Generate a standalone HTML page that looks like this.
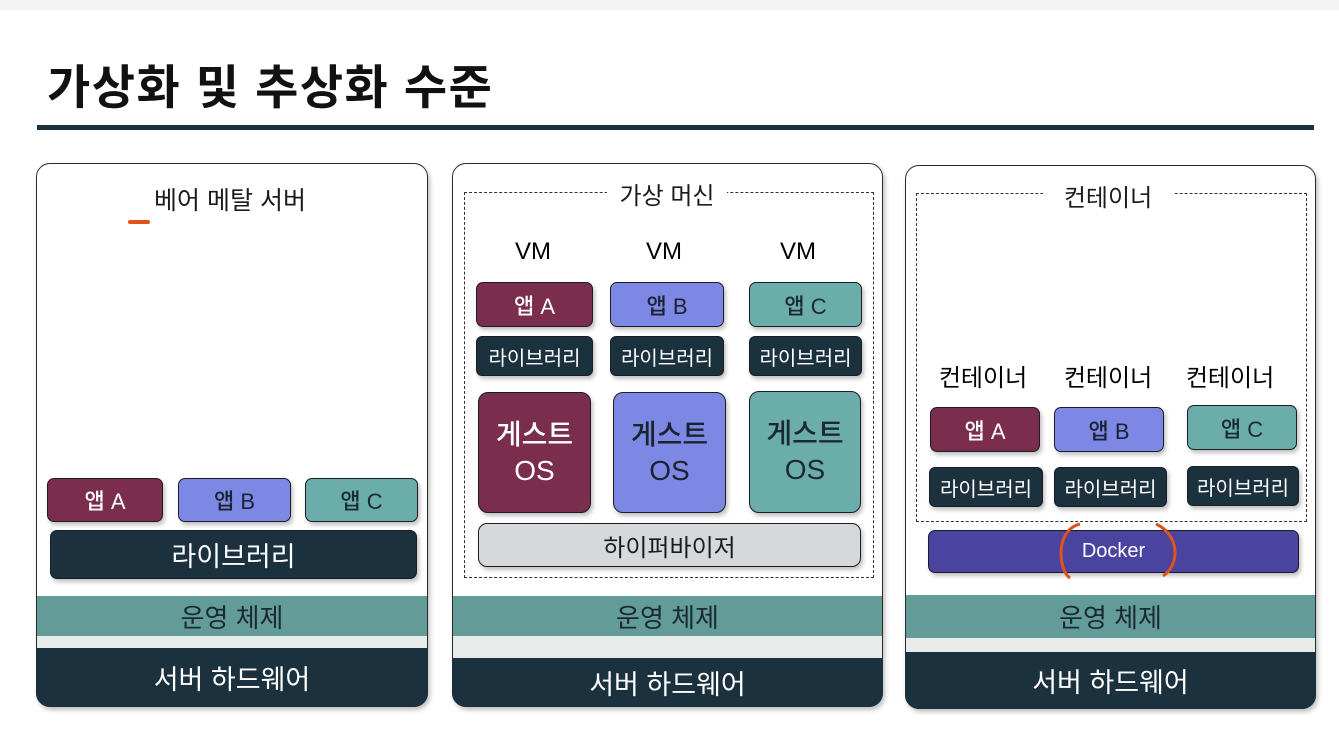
<!DOCTYPE html>
<html><head><meta charset="utf-8"><style>
body{margin:0;width:1339px;height:731px;background:#fff;position:relative;overflow:hidden;font-family:"Liberation Sans","Noto Sans CJK KR",sans-serif;}
.a{position:absolute;box-sizing:border-box;display:flex;align-items:center;justify-content:center;}
.panel{border:1.5px solid #2a2a2a;border-radius:14px;overflow:hidden;background:#fff;box-shadow:2px 3px 5px rgba(0,0,0,.25);}
.box{border:1.5px solid #1c1c24;border-radius:7px;font-size:22px;box-shadow:2px 3px 4px rgba(0,0,0,.25);font-weight:500;}
.ma{background:#7a2d4c;color:#fff;}.bl{background:#7d88e4;color:#1b2230;}.te{background:#6aadaa;color:#1b2a30;}
.dk{background:#1b313d;color:#fff;}
.lib{background:#1b313d;color:#fff;font-size:20px;border-radius:6px;font-weight:normal;}
.os{background:#629b98;color:#1b2a30;font-size:26px;}
.gap{background:#e7eceb;}
.hw{background:#1b313d;color:#fff;font-size:27px;}
.dash{border:1.5px dashed #333;}
.lbl{font-size:24px;color:#1b1b1b;background:#fff;padding:0 10px;}
.g{font-size:28px;line-height:36px;flex-direction:column;}
</style></head><body>
<div class="a" style="left:0;top:0;width:1339px;height:10px;background:#f4f4f4"></div>
<div class="a" style="left:47px;top:53px;height:60px;font-size:47px;letter-spacing:1.5px;font-weight:bold;color:#111;justify-content:flex-start">가상화 및 추상화 수준</div>
<div class="a" style="left:37px;top:125px;width:1277px;height:5px;background:#1b313d"></div>

<div class="a panel" style="left:36px;top:163px;width:392px;height:544px"></div>
<div class="a" style="left:140px;top:183px;width:180px;height:32px;font-size:25px;color:#1b1b1b">베어 메탈 서버</div>
<div class="a" style="left:128px;top:220px;width:22px;height:4px;background:#e0521c;border-radius:2px"></div>
<div class="a box ma" style="left:47px;top:478px;width:116px;height:44px">앱 A</div>
<div class="a box bl" style="left:178px;top:478px;width:113px;height:44px">앱 B</div>
<div class="a box te" style="left:305px;top:478px;width:113px;height:44px">앱 C</div>
<div class="a box dk" style="left:50px;top:530px;width:367px;height:49px;font-size:27px;font-weight:normal">라이브러리</div>
<div class="a os" style="left:37px;top:596px;width:390px;height:40px">운영 체제</div>
<div class="a gap" style="left:37px;top:636px;width:390px;height:12px"></div>
<div class="a hw" style="left:36px;top:648px;width:392px;height:59px;border-radius:0 0 14px 14px">서버 하드웨어</div>

<div class="a panel" style="left:452px;top:163px;width:431px;height:544px"></div>
<div class="a dash" style="left:464px;top:192px;width:410px;height:386px"></div>
<div class="a lbl" style="left:607px;top:178px;width:120px;height:30px">가상 머신</div>
<div class="a" style="left:493px;top:237px;width:80px;height:30px;font-size:24px;font-weight:500">VM</div>
<div class="a" style="left:624px;top:237px;width:80px;height:30px;font-size:24px;font-weight:500">VM</div>
<div class="a" style="left:758px;top:237px;width:80px;height:30px;font-size:24px;font-weight:500">VM</div>
<div class="a box ma" style="left:476px;top:282px;width:117px;height:45px">앱 A</div>
<div class="a box bl" style="left:610px;top:282px;width:114px;height:45px">앱 B</div>
<div class="a box te" style="left:749px;top:282px;width:113px;height:45px">앱 C</div>
<div class="a box lib" style="left:476px;top:336px;width:117px;height:40px">라이브러리</div>
<div class="a box lib" style="left:610px;top:336px;width:114px;height:40px">라이브러리</div>
<div class="a box lib" style="left:749px;top:336px;width:113px;height:40px">라이브러리</div>
<div class="a box ma g" style="left:478px;top:392px;width:113px;height:121px;border-radius:10px"><span>게스트</span><span>OS</span></div>
<div class="a box bl g" style="left:613px;top:392px;width:113px;height:121px;border-radius:10px"><span>게스트</span><span>OS</span></div>
<div class="a box te g" style="left:749px;top:391px;width:112px;height:122px;border-radius:10px"><span>게스트</span><span>OS</span></div>
<div class="a box" style="left:478px;top:523px;width:383px;height:44px;background:#d7d8da;color:#1b1b1b;font-size:24px;border-radius:9px;font-weight:normal">하이퍼바이저</div>
<div class="a os" style="left:453px;top:596px;width:429px;height:40px">운영 체제</div>
<div class="a gap" style="left:453px;top:636px;width:429px;height:22px"></div>
<div class="a hw" style="left:452px;top:658px;width:431px;height:49px;border-radius:0 0 14px 14px">서버 하드웨어</div>

<div class="a panel" style="left:905px;top:165px;width:411px;height:544px"></div>
<div class="a dash" style="left:916px;top:193px;width:391px;height:329px"></div>
<div class="a lbl" style="left:1043px;top:180px;width:130px;height:30px">컨테이너</div>
<div class="a" style="left:928px;top:360px;width:110px;height:30px;font-size:24px">컨테이너</div>
<div class="a" style="left:1053px;top:360px;width:110px;height:30px;font-size:24px">컨테이너</div>
<div class="a" style="left:1175px;top:360px;width:110px;height:30px;font-size:24px">컨테이너</div>
<div class="a box ma" style="left:930px;top:407px;width:110px;height:45px">앱 A</div>
<div class="a box bl" style="left:1054px;top:407px;width:110px;height:45px">앱 B</div>
<div class="a box te" style="left:1187px;top:405px;width:110px;height:45px">앱 C</div>
<div class="a box lib" style="left:929px;top:467px;width:114px;height:40px">라이브러리</div>
<div class="a box lib" style="left:1054px;top:467px;width:113px;height:40px">라이브러리</div>
<div class="a box lib" style="left:1187px;top:466px;width:112px;height:40px">라이브러리</div>
<div class="a box" style="left:928px;top:530px;width:371px;height:43px;background:#4a43a0;color:#fff;font-size:20px;border-radius:7px">Docker</div>
<svg style="position:absolute;left:0;top:0" width="1339" height="731">
<path d="M1080 524 C1055 530,1058 570,1070 578" stroke="#e0521c" stroke-width="3" fill="none"/>
<path d="M1156 524 C1180 535,1180 565,1163 576" stroke="#e0521c" stroke-width="3" fill="none"/>
</svg>
<div class="a os" style="left:906px;top:595px;width:409px;height:43px">운영 체제</div>
<div class="a gap" style="left:906px;top:638px;width:409px;height:14px"></div>
<div class="a hw" style="left:905px;top:652px;width:411px;height:57px;border-radius:0 0 14px 14px">서버 하드웨어</div>
</body></html>
